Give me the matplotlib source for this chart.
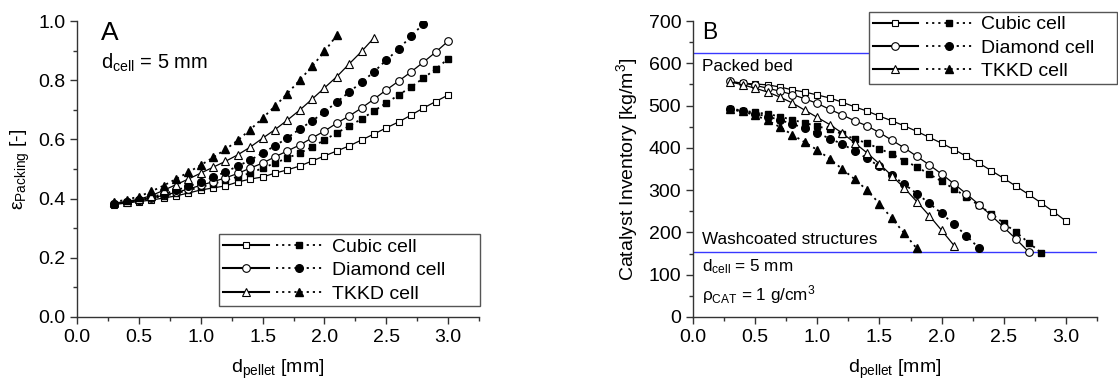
import matplotlib
matplotlib.use('Agg')
import matplotlib.pyplot as plt
from matplotlib.legend_handler import HandlerTuple
from matplotlib.ticker import MultipleLocator

plt.rcParams['font.family'] = ['Liberation Sans', 'DejaVu Sans']
plt.rcParams['mathtext.fontset'] = 'custom'
plt.rcParams['mathtext.rm'] = 'Liberation Sans'
plt.rcParams['mathtext.it'] = 'Liberation Sans:italic'

# pellet diameters (mm)
d_pellet = [0.3, 0.4, 0.5, 0.6, 0.7, 0.8, 0.9, 1.0, 1.1, 1.2, 1.3, 1.4, 1.5,
            1.6, 1.7, 1.8, 1.9, 2.0, 2.1, 2.2, 2.3, 2.4, 2.5, 2.6, 2.7, 2.8,
            2.9, 3.0]

# panel A: packing fraction
eps_cubic_open = [0.380, 0.385, 0.390, 0.395, 0.402, 0.409, 0.419, 0.429, 0.436,
                  0.443, 0.456, 0.466, 0.473, 0.486, 0.497, 0.510, 0.527, 0.544,
                  0.561, 0.578, 0.598, 0.618, 0.639, 0.659, 0.682, 0.706, 0.728,
                  0.750]
eps_cubic_fill = [0.382, 0.388, 0.394, 0.401, 0.409, 0.418, 0.428, 0.439, 0.450,
                  0.462, 0.474, 0.486, 0.503, 0.520, 0.537, 0.554, 0.574, 0.598,
                  0.622, 0.645, 0.669, 0.696, 0.723, 0.750, 0.777, 0.807, 0.838,
                  0.872]
eps_diam_open = [0.382, 0.388, 0.395, 0.402, 0.411, 0.421, 0.432, 0.445, 0.457,
                 0.470, 0.485, 0.503, 0.520, 0.541, 0.561, 0.581, 0.605, 0.628,
                 0.655, 0.679, 0.706, 0.736, 0.767, 0.797, 0.828, 0.861, 0.895,
                 0.932]
eps_diam_fill = [0.383, 0.389, 0.396, 0.405, 0.416, 0.428, 0.441, 0.456, 0.472,
                 0.490, 0.510, 0.530, 0.554, 0.578, 0.605, 0.635, 0.662, 0.693,
                 0.726, 0.760, 0.793, 0.828, 0.868, 0.905, 0.949, 0.990]
eps_tkkd_open = [0.385, 0.390, 0.398, 0.410, 0.428, 0.447, 0.466, 0.486, 0.506,
                 0.526, 0.548, 0.574, 0.604, 0.633, 0.665, 0.699, 0.736, 0.774,
                 0.812, 0.855, 0.897, 0.943]
eps_tkkd_fill = [0.389, 0.396, 0.407, 0.424, 0.444, 0.466, 0.489, 0.513, 0.539,
                 0.566, 0.597, 0.633, 0.672, 0.712, 0.755, 0.800, 0.847, 0.897,
                 0.952]

# panel B: catalyst inventory (kg/m3)
inv_cubic_open = [556, 553, 551, 549, 544, 537, 532, 525, 518, 508, 497, 487, 475,
                  464, 452, 439, 425, 411, 396, 380, 364, 346, 328, 309, 290, 270,
                  249, 227]
inv_cubic_fill = [493, 488, 484, 480, 474, 466, 459, 451, 444, 433, 421, 411, 398,
                  385, 370, 355, 338, 321, 303, 284, 264, 244, 222, 200, 176, 152]
inv_diam_open = [557, 553, 548, 541, 534, 526, 516, 505, 491, 478, 464, 452, 436,
                 418, 400, 380, 360, 338, 315, 291, 266, 240, 212, 184, 154]
inv_diam_fill = [491, 486, 481, 474, 466, 456, 447, 435, 422, 409, 393, 375, 356,
                 335, 314, 292, 269, 245, 219, 192, 163]
inv_tkkd_open = [556, 549, 541, 532, 520, 506, 489, 472, 455, 435, 412, 388, 362,
                 334, 305, 273, 240, 205, 169]
inv_tkkd_fill = [492, 486, 477, 465, 449, 431, 413, 395, 374, 350, 326, 300, 268,
                 233, 198, 162]

packed_bed = 624
washcoated = 154

labels = ['Cubic cell', 'Diamond cell', 'TKKD cell']
markers = ['s', 'o', '^']
msizes = [4.5, 5.5, 6]

FS = 14


def draw_series(ax, opens, fills):
    handles = []
    for op, fi, m, ms in zip(opens, fills, markers, msizes):
        l1, = ax.plot(d_pellet[:len(op)], op, '-', color='black', lw=0.9,
                      marker=m, ms=ms, mfc='white', mec='black', mew=0.8)
        l2, = ax.plot(d_pellet[:len(fi)], fi, color='black', lw=1.3,
                      ls=(0, (1.2, 2.2)), marker=m, ms=ms, mfc='black',
                      mec='black')
        handles.append((l1, l2))
    return handles


def style_axis(ax):
    for s in ['top', 'right']:
        ax.spines[s].set_visible(False)
    for s in ['left', 'bottom']:
        ax.spines[s].set_color('#333333')
        ax.spines[s].set_linewidth(1.0)
    ax.set_xlim(0, 3.25)
    ax.xaxis.set_major_locator(MultipleLocator(0.5))
    ax.xaxis.set_minor_locator(MultipleLocator(0.25))
    ax.tick_params(which='major', direction='out', length=5, width=1,
                   labelsize=FS, color='#333333')
    ax.tick_params(which='minor', direction='out', length=3, width=1,
                   color='#333333')


def make_legend(ax, handles, anchor, transform):
    leg = ax.legend(handles, labels,
                    handler_map={tuple: HandlerTuple(ndivide=None, pad=0.4)},
                    loc='upper left', bbox_to_anchor=anchor,
                    bbox_transform=transform, mode='expand', borderaxespad=0,
                    fontsize=FS, handlelength=5.1, handletextpad=0.5,
                    borderpad=0.2, labelspacing=0.3, fancybox=False,
                    framealpha=1, edgecolor='#555555')
    leg.get_frame().set_linewidth(1.0)
    for ln in leg.get_lines():
        ln.set_linewidth(1.5)
    return leg


fig = plt.figure(figsize=(11.18, 3.84), dpi=100)
axA = fig.add_axes([0.0689, 0.1745, 0.3596, 0.7708])
axB = fig.add_axes([0.6199, 0.1745, 0.3613, 0.7708])

# ---- panel A
hA = draw_series(axA, [eps_cubic_open, eps_diam_open, eps_tkkd_open],
                 [eps_cubic_fill, eps_diam_fill, eps_tkkd_fill])
style_axis(axA)
axA.set_ylim(0, 1.0)
axA.yaxis.set_major_locator(MultipleLocator(0.2))
axA.yaxis.set_minor_locator(MultipleLocator(0.1))
axA.set_xlabel(r'd$_{\mathrm{pellet}}$ [mm]', fontsize=FS, labelpad=9)
axA.set_ylabel(r'ε$_{\mathrm{Packing}}$ [-]', fontsize=FS, labelpad=4)
axA.text(0.06, 1.0, 'A', transform=axA.transAxes, fontsize=19, va='top')
axA.text(0.06, 0.86, r'd$_{\mathrm{cell}}$ = 5 mm', transform=axA.transAxes,
         fontsize=14.5, va='center')
make_legend(axA, hA, (0.353, 0.28, 0.649, 0.0), axA.transAxes)

# ---- panel B
axB.axhline(packed_bed, color='#3838ff', lw=1, zorder=1)
axB.axhline(washcoated, color='#3838ff', lw=1, zorder=1)
hB = draw_series(axB, [inv_cubic_open, inv_diam_open, inv_tkkd_open],
                 [inv_cubic_fill, inv_diam_fill, inv_tkkd_fill])
style_axis(axB)
axB.set_ylim(0, 700)
axB.yaxis.set_major_locator(MultipleLocator(100))
axB.yaxis.set_minor_locator(MultipleLocator(50))
axB.set_xlabel(r'd$_{\mathrm{pellet}}$ [mm]', fontsize=FS, labelpad=9)
axB.set_ylabel(r'Catalyst Inventory [kg/m$^{3}$]', fontsize=FS, labelpad=6)
axB.text(0.022, 1.0, 'B', transform=axB.transAxes, fontsize=16.5, va='top')
ytr = axB.get_yaxis_transform()
axB.text(0.022, 593, 'Packed bed', transform=ytr, fontsize=12.3, va='center')
axB.text(0.022, 184, 'Washcoated structures', transform=ytr, fontsize=12.3,
         va='center')
axB.text(0.022, 120, r'd$_{\mathrm{cell}}$ = 5 mm', transform=ytr,
         fontsize=12.3, va='center')
axB.text(0.022, 52, r'ρ$_{\mathrm{CAT}}$ = 1 g/cm$^{3}$', transform=ytr,
         fontsize=12.3, va='center')
make_legend(axB, hB, (0.777, 0.969, 0.222, 0.0), fig.transFigure)

fig.savefig('out.png', dpi=100)
plt.close()
